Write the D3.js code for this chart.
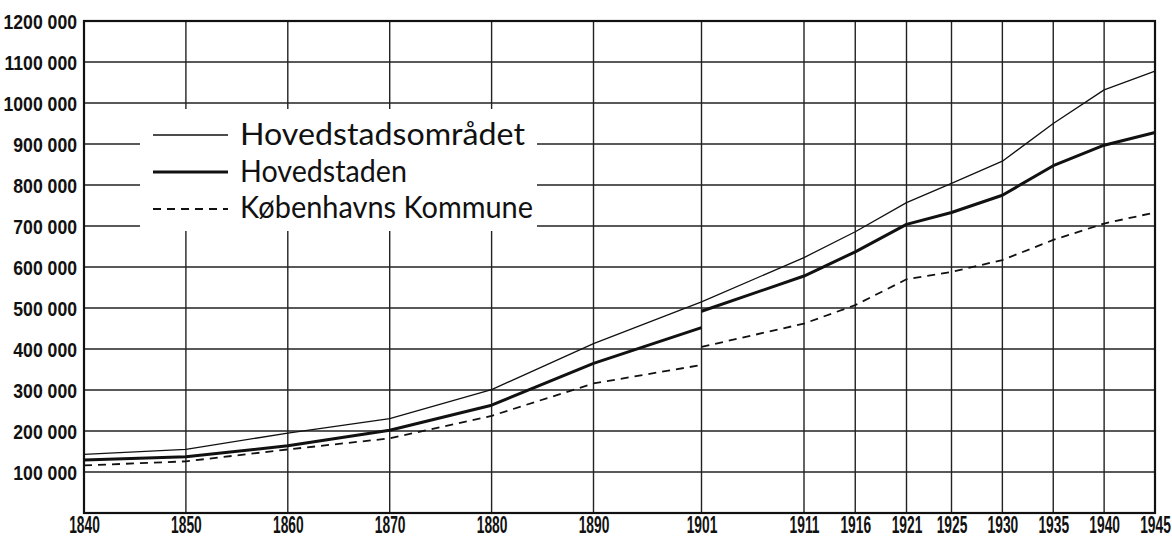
<!DOCTYPE html>
<html><head><meta charset="utf-8">
<script src="https://cdn.jsdelivr.net/npm/d3@7"></script>
<style>
html,body{margin:0;padding:0;background:#fff;}
svg{display:block;}
.ax{font-family:"Liberation Sans","DejaVu Sans",sans-serif;font-weight:bold;fill:#111;}
.lg{font-family:Lato,"Noto Sans",sans-serif;fill:#111;}
</style></head>
<body>
<svg id="c" width="1172" height="538"></svg>
<script>
// ---- data ----
const xTickYears = [1840,1850,1860,1870,1880,1890,1901,1911,1916,1921,1925,1930,1935,1940,1945];
const yTickValues = [100000,200000,300000,400000,500000,600000,700000,800000,900000,1000000,1100000,1200000];
const yTickLabels = ["100 000","200 000","300 000","400 000","500 000","600 000","700 000","800 000","900 000","1000 000","1100 000","1200 000"];

const seriesNames = ["Hovedstadsområdet","Hovedstaden","Københavns Kommune"];

// Hovedstadsområdet (continuous)
const areaYears  = [1840,1850,1860,1870,1880,1890,1901,1911,1916,1921,1925,1930,1935,1940,1945];
const areaValues = [143000,155000,195000,230000,301000,413000,515000,623000,686000,757000,804000,858000,950000,1032000,1078000];

// Hovedstaden: before and after the 1901 boundary change
const capYearsA  = [1840,1850,1860,1870,1880,1890,1901];
const capValuesA = [129000,137000,164000,202000,263000,365000,452000];
const capYearsB  = [1901,1911,1916,1921,1925,1930,1935,1940,1945];
const capValuesB = [492000,578000,637000,704000,733000,775000,847000,897000,928000];

// Københavns Kommune: before and after 1901
const kkYearsA  = [1840,1850,1860,1870,1880,1890,1901];
const kkValuesA = [116000,126000,155000,182000,237000,316000,361000];
const kkYearsB  = [1901,1911,1916,1921,1925,1930,1935,1940,1945];
const kkValuesB = [405000,462000,507000,570000,588000,617000,666000,706000,733000];

// ---- layout ----
const L = 84, R = 1155, T = 21, B = 513;
const svg = d3.select("#c");
// piecewise year scale (the printed chart's spacing is slightly uneven)
const x = d3.scaleLinear().domain([1840,1890,1901,1921,1925,1945]).range([L,593.5,701.5,906.5,951.5,R]);
const y = d3.scaleLinear().domain([0,1200000]).range([B,T]);

// grid
const g = svg.append("g");
g.selectAll(".hg").data(yTickValues).join("line")
  .attr("x1",L).attr("x2",R).attr("y1",d=>y(d)).attr("y2",d=>y(d))
  .attr("stroke","#222").attr("stroke-width",1.4);
g.selectAll(".vg").data(xTickYears).join("line")
  .attr("x1",d=>x(d)).attr("x2",d=>x(d)).attr("y1",T).attr("y2",B)
  .attr("stroke","#222").attr("stroke-width",1.4);

// legend white box
svg.append("rect").attr("x",140).attr("y",109).attr("width",397).attr("height",122).attr("fill","#fff");

// frame
svg.append("rect").attr("x",L).attr("y",T).attr("width",R-L).attr("height",B-T)
  .attr("fill","none").attr("stroke","#111").attr("stroke-width",2.2);

// axes (labels only)
const yAxis = d3.axisLeft(y).tickValues(yTickValues).tickSize(0).tickPadding(0)
  .tickFormat((d,i)=>yTickLabels[i]);
const ya = svg.append("g").attr("transform",`translate(${L},0)`).call(yAxis);
ya.select(".domain").remove();
ya.selectAll("text").attr("class","ax").style("font-size","21px").attr("x",0).attr("dy","0.36em")
  .attr("transform","translate(-7,0) scale(0.84,1)");

const xAxis = d3.axisBottom(x).tickValues(xTickYears).tickSize(0).tickPadding(0)
  .tickFormat(d=>String(d));
const xa = svg.append("g").attr("transform",`translate(0,${B})`).call(xAxis);
xa.select(".domain").remove();
xa.selectAll("text").attr("class","ax").style("font-size","23px").attr("y",0).attr("dy",0)
  .attr("transform","translate(0,20) scale(0.6,1)");

// lines
const line = d3.line().x(d=>x(d[0])).y(d=>y(d[1]));
const zip = (a,b)=>a.map((v,i)=>[v,b[i]]);
const styles = [
  {w:1.3, dash:null},
  {w:3, dash:null},
  {w:1.8, dash:"8,6"}
];
function draw(data, s){
  svg.append("path").datum(data).attr("d",line).attr("fill","none")
    .attr("stroke","#111").attr("stroke-width",s.w)
    .attr("stroke-dasharray",s.dash).attr("stroke-linejoin","round");
}
draw(zip(areaYears,areaValues), styles[0]);
draw(zip(capYearsA,capValuesA), styles[1]);
draw(zip(capYearsB,capValuesB), styles[1]);
draw(zip(kkYearsA,kkValuesA), styles[2]);
draw(zip(kkYearsB,kkValuesB), styles[2]);

// legend
const lg = svg.append("g");
const rowY = [135,172,209];
const baseY = [145,182,218];
const textW = [285,167,293];
seriesNames.forEach((n,i)=>{
  lg.append("line").attr("x1",153).attr("x2",228).attr("y1",rowY[i]).attr("y2",rowY[i])
    .attr("stroke","#111").attr("stroke-width",styles[i].w).attr("stroke-dasharray",styles[i].dash);
  lg.append("text").attr("class","lg").attr("x",240).attr("y",baseY[i])
    .style("font-size","30px").attr("lengthAdjust","spacingAndGlyphs").attr("textLength",textW[i]).text(n);
});
</script>
</body></html>
